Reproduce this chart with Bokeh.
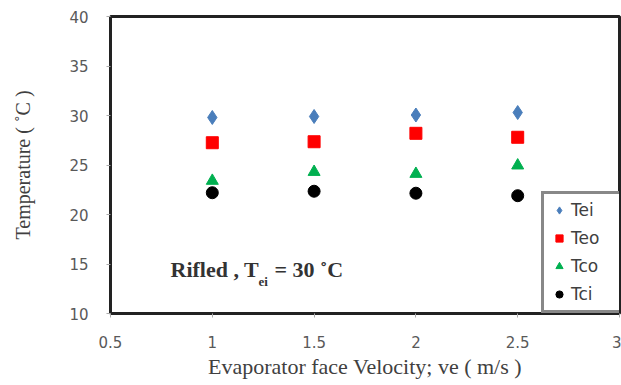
from bokeh.plotting import figure
from bokeh.models import Range1d, FixedTicker, Legend, LegendItem, Label
from bokeh.embed import file_html
from bokeh.resources import INLINE

velocity = [1.0, 1.5, 2.0, 2.5]
tei = [29.8, 29.9, 30.05, 30.3]
teo = [27.25, 27.35, 28.2, 27.8]
tco = [23.4, 24.3, 24.1, 24.95]
tci = [22.2, 22.35, 22.15, 21.9]
x_ticks = [0.5, 1, 1.5, 2, 2.5, 3]
y_ticks = [10, 15, 20, 25, 30, 35, 40]

p = figure(width=621, height=385, output_backend="svg", toolbar_location=None,
           x_range=Range1d(0.5, 3), y_range=Range1d(10, 40),
           min_border_left=110, min_border_right=2, min_border_top=16, min_border_bottom=72)
p.grid.visible = False
p.outline_line_color = "#222222"
p.outline_line_width = 3
p.background_fill_color = "white"

for ax in (p.xaxis[0], p.yaxis[0]):
    ax.axis_line_color = None
    ax.major_tick_line_color = "#aaaaaa"
    ax.major_tick_out = 4
    ax.major_tick_in = 0
    ax.minor_tick_line_color = None
    ax.major_label_text_font = "DejaVu Sans"
    ax.major_label_text_font_size = "15px"
    ax.major_label_text_color = "#595959"
    ax.axis_label_text_font = "Liberation Serif"
    ax.axis_label_text_font_style = "normal"
    ax.axis_label_text_color = "#404040"

p.xaxis.ticker = FixedTicker(ticks=x_ticks)
p.yaxis.ticker = FixedTicker(ticks=y_ticks)
p.xaxis.major_label_standoff = 18
p.yaxis.major_label_standoff = 18
p.xaxis.axis_label = "Evaporator face Velocity; ve ( m/s )"
p.xaxis.axis_label_text_font_size = "22px"
p.xaxis.axis_label_standoff = 3
p.yaxis.axis_label = "Temperature ( ˚C )"
p.yaxis.axis_label_text_font_size = "20px"
p.yaxis.axis_label_standoff = 32

r1 = p.scatter(velocity, tei, marker="diamond", size=14, color="#4a7ebb")
r2 = p.scatter(velocity, teo, marker="square", size=12, color="#ff0000")
r3 = p.scatter(velocity, tco, marker="triangle", size=12, color="#00b050")
r4 = p.scatter(velocity, tci, marker="circle", size=12, color="#000000")

legend = Legend(items=[LegendItem(label="Tei", renderers=[r1]),
                       LegendItem(label="Teo", renderers=[r2]),
                       LegendItem(label="Tco", renderers=[r3]),
                       LegendItem(label="Tci", renderers=[r4])],
                location=(431, 0), orientation="vertical",
                border_line_color="#111111", border_line_width=3,
                label_text_font="DejaVu Sans", label_text_font_size="17px",
                label_text_color="#404040", spacing=8, padding=6,
                glyph_width=18, glyph_height=20, label_standoff=3,
                label_height=20, label_width=47, margin=0,
                background_fill_alpha=1)
p.add_layout(legend, "center")

font = "Liberation Serif"
lbl1 = Label(x=60, y=32, x_units="screen", y_units="screen",
             text="Rifled , T", text_font=font, text_font_size="22px",
             text_font_style="bold", text_color="#333333")
lbl2 = Label(x=148, y=25, x_units="screen", y_units="screen",
             text="ei", text_font=font, text_font_size="13px",
             text_font_style="bold", text_color="#333333")
lbl3 = Label(x=164, y=32, x_units="screen", y_units="screen",
             text="= 30 ˚C", text_font=font, text_font_size="22px",
             text_font_style="bold", text_color="#333333")
for l in (lbl1, lbl2, lbl3):
    p.add_layout(l)

open("out.html", "w").write(file_html(p, INLINE))
